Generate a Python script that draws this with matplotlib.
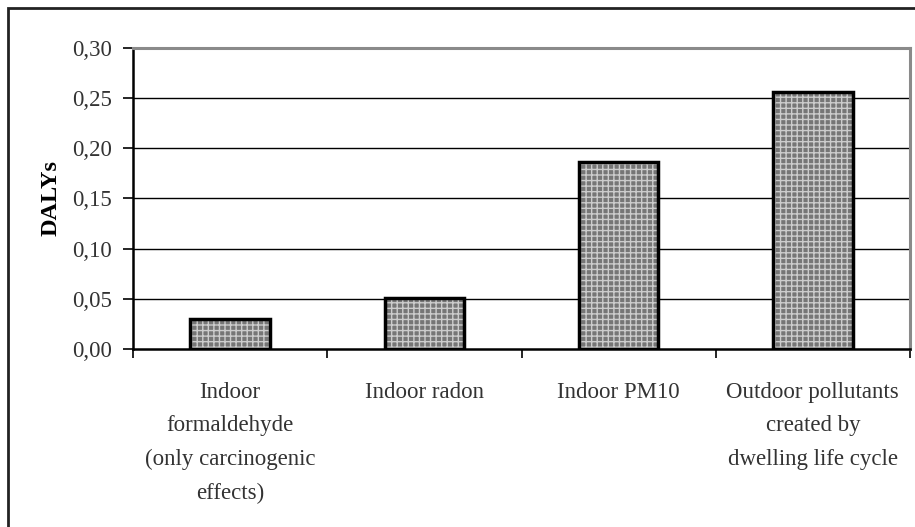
import matplotlib.pyplot as plt
import matplotlib.patches as patches
import numpy as np

# data
categories = ['Indoor\nformaldehyde\n(only carcinogenic\neffects)',
              'Indoor radon',
              'Indoor PM10',
              'Outdoor pollutants\ncreated by\ndwelling life cycle']
dalys = [0.030, 0.051, 0.186, 0.256]
yticks = [0.00, 0.05, 0.10, 0.15, 0.20, 0.25, 0.30]
ytick_labels = ['0,00', '0,05', '0,10', '0,15', '0,20', '0,25', '0,30']

plt.rcParams['font.family'] = ['Liberation Serif', 'DejaVu Serif']
plt.rcParams['hatch.linewidth'] = 1.0

fig = plt.figure(figsize=(9.15, 5.27), dpi=100)
ax = fig.add_axes([0.1454, 0.3378, 0.8491, 0.5711])

x = np.arange(len(categories))

# gridlines behind the bars
for yv in yticks[1:-1]:
    ax.axhline(yv, color='black', lw=1.0, zorder=1)

# hatched fill, then a thick black outline
ax.bar(x, dalys, width=0.41, color='#767676', edgecolor='#cccccc',
       hatch='+++', linewidth=0, zorder=2)
ax.bar(x, dalys, width=0.41, fill=False, edgecolor='black',
       linewidth=2.5, zorder=3)

ax.set_xlim(-0.5, len(categories) - 0.5)
ax.set_ylim(0, 0.30)
ax.set_yticks(yticks)
ax.set_yticklabels(ytick_labels, fontsize=16.5, color='#333333')
ax.tick_params(axis='y', direction='out', length=7.5, width=1.2, pad=8)

# ticks on category borders, labels at category centers
ax.set_xticks(np.arange(len(categories) + 1) - 0.5)
ax.set_xticklabels([])
ax.tick_params(axis='x', direction='out', length=6.5, width=1.2)
for i, lab in enumerate(categories):
    ax.text(i, -0.033, lab, ha='center', va='top', fontsize=16.5,
            linespacing=1.77, color='#333333')

ax.set_ylabel('DALYs', fontsize=17.5, fontweight='bold', labelpad=7)

for side in ['left', 'bottom']:
    ax.spines[side].set_linewidth(1.8)
    ax.spines[side].set_color('black')
for side in ['top', 'right']:
    ax.spines[side].set_linewidth(2.2)
    ax.spines[side].set_color('#8a8a8a')

# outer frame of the chart (cropped on right and bottom)
frame = patches.Rectangle((8 / 915, -0.1), 1.2, 1 - 8 / 527 + 0.1,
                          transform=fig.transFigure, fill=False,
                          edgecolor='#222222', linewidth=2.0, clip_on=False)
fig.patches.append(frame)

fig.savefig('out.png', dpi=100)
